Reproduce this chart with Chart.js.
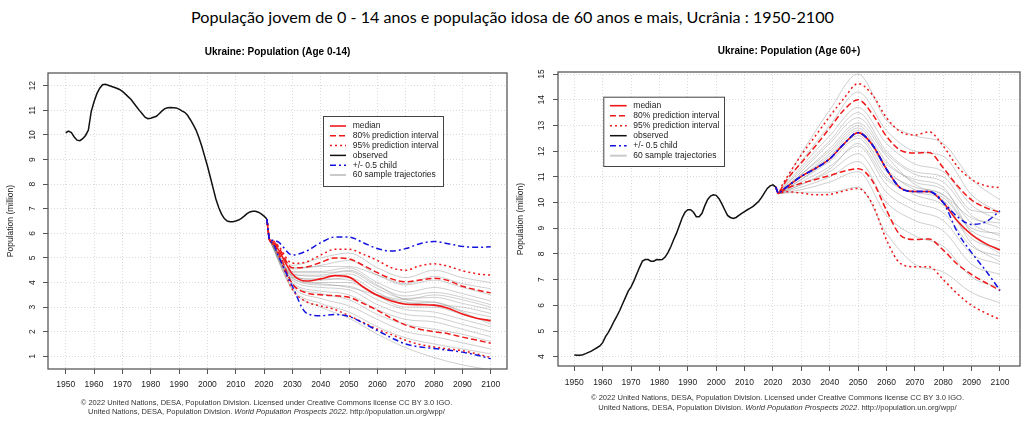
<!DOCTYPE html>
<html>
<head>
<meta charset="utf-8">
<script src="https://cdn.jsdelivr.net/npm/chart.js@4.4.0/dist/chart.umd.min.js"></script>
<style>
html,body{margin:0;padding:0;background:#fff;}
body{width:1025px;height:422px;position:relative;overflow:hidden;}
#mainTitle{position:absolute;left:0;top:8px;width:1025px;text-align:center;font-family:Lato,'Open Sans',sans-serif;font-size:14.5px;line-height:20px;color:#000;white-space:nowrap;}
#mt{display:inline-block;transform-origin:50% 50%;}
.panel{position:absolute;top:30px;height:392px;}
#wrapL{left:0;width:512px;}
#wrapR{left:512px;width:513px;}
canvas{display:block;}
</style>
</head>
<body>
<div id="mainTitle"><span id="mt">População jovem de 0 - 14 anos e população idosa de 60 anos e mais, Ucrânia : 1950-2100</span></div>
<div class="panel" id="wrapL"><canvas id="cL" width="512" height="392"></canvas></div>
<div class="panel" id="wrapR"><canvas id="cR" width="513" height="392"></canvas></div>
<script>
// ---------------- DATA ----------------
const obsYears = [1950,1951,1952,1953,1954,1955,1956,1957,1958,1959,1960,1961,1962,1963,1964,1965,1966,1967,1968,1969,
  1970,1971,1972,1973,1974,1975,1976,1977,1978,1979,1980,1981,1982,1983,1984,1985,1986,1987,1988,1989,
  1990,1991,1992,1993,1994,1995,1996,1997,1998,1999,2000,2001,2002,2003,2004,2005,2006,2007,2008,2009,
  2010,2011,2012,2013,2014,2015,2016,2017,2018,2019,2020,2021];

const youngObserved = [10.09,10.16,10.10,9.92,9.79,9.77,9.85,9.98,10.20,10.95,11.35,11.68,11.90,12.04,12.06,12.02,11.98,11.94,11.90,11.85,
  11.77,11.67,11.56,11.45,11.30,11.15,11.00,10.86,10.72,10.66,10.68,10.72,10.76,10.86,10.98,11.07,11.11,11.12,11.11,11.10,
  11.05,10.98,10.92,10.80,10.62,10.42,10.20,9.90,9.55,9.15,8.75,8.30,7.85,7.40,7.05,6.78,6.60,6.50,6.47,6.47,
  6.50,6.54,6.61,6.70,6.80,6.87,6.90,6.90,6.86,6.79,6.70,6.58];

const oldObserved = [4.07,4.06,4.06,4.08,4.12,4.17,4.22,4.29,4.35,4.42,4.55,4.78,4.95,5.15,5.38,5.58,5.80,6.05,6.30,6.55,
  6.72,6.95,7.22,7.48,7.72,7.78,7.78,7.72,7.72,7.78,7.77,7.78,7.88,8.05,8.28,8.55,8.80,9.10,9.40,9.62,
  9.72,9.72,9.62,9.45,9.45,9.58,9.88,10.12,10.25,10.30,10.28,10.15,9.95,9.72,9.50,9.42,9.38,9.42,9.50,9.58,
  9.65,9.72,9.78,9.85,9.95,10.05,10.20,10.38,10.55,10.65,10.69,10.60];

const projYears = [2021,2022,2023,2025,2030,2035,2040,2045,2050,2055,2060,2065,2070,2075,2080,2085,2090,2095,2100];

// Age 0-14 projections
const youngMedian = [6.58,5.72,5.65,5.35,4.35,4.06,4.15,4.28,4.22,3.82,3.48,3.25,3.12,3.10,3.08,2.95,2.72,2.55,2.45];
const young80Up   = [6.58,5.72,5.68,5.45,4.60,4.63,4.82,5.00,4.96,4.70,4.40,4.15,4.03,4.10,4.17,4.08,3.85,3.70,3.58];
const young95Up   = [6.58,5.72,5.70,5.50,4.78,4.84,5.12,5.35,5.35,5.15,4.90,4.60,4.50,4.68,4.76,4.66,4.48,4.36,4.30];
const young80Lo   = [6.58,5.72,5.60,5.25,3.95,3.58,3.50,3.46,3.40,3.15,2.87,2.55,2.27,2.10,2.00,1.92,1.78,1.66,1.53];
const young95Lo   = [6.58,5.72,5.58,5.15,3.72,3.22,3.05,2.90,2.65,2.38,2.10,1.88,1.65,1.48,1.38,1.30,1.23,1.10,0.95];
const youngChildUp= [6.58,5.72,5.72,5.65,5.12,5.28,5.62,5.85,5.85,5.62,5.38,5.28,5.38,5.58,5.67,5.58,5.47,5.43,5.45];
const youngChildLo= [6.58,5.72,5.62,5.10,3.85,2.75,2.65,2.70,2.62,2.35,2.05,1.75,1.50,1.38,1.32,1.25,1.17,1.05,0.90];

// Age 60+ projections
const oldMedian   = [10.60,10.35,10.45,10.62,11.02,11.33,11.70,12.28,12.72,12.25,11.30,10.56,10.43,10.43,10.00,9.28,8.75,8.40,8.15];
const old80Up     = [10.60,10.35,10.55,10.90,11.55,12.20,12.90,13.60,14.00,13.45,12.58,12.03,11.93,11.95,11.35,10.65,10.10,9.80,9.62];
const old95Up     = [10.60,10.35,10.62,11.00,11.85,12.60,13.35,14.05,14.63,14.20,13.30,12.75,12.63,12.75,12.20,11.40,10.90,10.65,10.58];
const old80Lo     = [10.60,10.35,10.42,10.55,10.75,10.90,11.05,11.22,11.32,10.85,9.70,8.72,8.56,8.58,8.15,7.60,7.20,6.88,6.58];
const old95Lo     = [10.60,10.35,10.38,10.42,10.37,10.30,10.32,10.45,10.55,9.95,8.55,7.62,7.50,7.50,7.00,6.45,6.00,5.70,5.45];
const oldChildUp  = [10.60,10.35,10.45,10.62,11.02,11.33,11.70,12.28,12.72,12.25,11.30,10.56,10.43,10.43,10.00,9.45,9.15,9.25,9.68];
const oldChildLo  = [10.60,10.35,10.45,10.62,11.02,11.33,11.70,12.28,12.72,12.25,11.30,10.56,10.43,10.43,10.00,8.85,8.05,7.35,6.58];

// sample trajectories (a subset)
const trajYears = [2022,2030,2040,2050,2060,2070,2080,2090,2100];
const youngTrajectories = [
  [5.72,4.70,5.00,5.20,4.60,4.20,4.50,4.20,4.00],
  [5.72,4.55,4.70,4.90,4.30,3.90,4.10,3.80,3.50],
  [5.72,4.45,4.45,4.60,4.00,3.60,3.80,3.55,3.25],
  [5.72,4.35,4.25,4.35,3.75,3.35,3.40,3.15,2.90],
  [5.72,4.30,4.10,4.20,3.60,3.15,3.20,2.85,2.60],
  [5.72,4.25,4.00,4.00,3.45,3.00,3.00,2.70,2.40],
  [5.72,4.20,3.90,3.85,3.30,2.90,2.80,2.50,2.20],
  [5.72,4.10,3.80,3.70,3.10,2.70,2.60,2.30,2.00],
  [5.72,4.00,3.65,3.50,2.90,2.50,2.40,2.10,1.80],
  [5.72,3.95,3.55,3.30,2.70,2.30,2.10,1.90,1.60],
  [5.72,3.85,3.35,3.05,2.50,2.00,1.80,1.55,1.30],
  [5.72,3.75,3.15,2.80,2.20,1.75,1.50,1.30,1.10],
  [5.72,3.70,3.00,2.55,1.90,1.35,0.95,0.65,0.45],
  [5.72,4.60,4.65,4.65,4.30,3.95,4.25,3.95,3.75],
  [5.72,4.40,4.40,4.45,3.85,3.45,3.60,3.40,3.10],
  [5.72,4.20,4.15,4.10,3.50,3.20,3.10,3.00,2.75],
  [5.72,4.30,4.30,4.50,3.90,3.30,3.20,2.80,2.30],
  [5.72,4.15,3.95,3.80,3.50,3.30,3.50,3.30,3.00]
];
const oldTrajectories = [
  [10.35,11.90,13.60,15.00,13.20,12.60,12.30,10.90,10.10],
  [10.35,11.60,13.00,14.30,12.80,12.00,11.80,10.30,9.60],
  [10.35,11.40,12.60,13.70,12.30,11.50,11.20,9.90,9.30],
  [10.35,11.20,12.30,13.30,11.90,11.10,10.80,9.50,9.00],
  [10.35,11.10,12.00,13.00,11.60,10.80,10.50,9.20,8.70],
  [10.35,11.00,11.80,12.80,11.30,10.50,10.20,8.90,8.50],
  [10.35,10.90,11.60,12.50,11.00,10.30,9.90,8.60,8.20],
  [10.35,10.80,11.40,12.20,10.70,10.00,9.60,8.30,7.90],
  [10.35,10.70,11.20,11.90,10.40,9.70,9.30,8.00,7.60],
  [10.35,10.60,11.00,11.60,10.00,9.30,8.90,7.60,7.20],
  [10.35,10.50,10.80,11.20,9.50,8.70,8.30,7.10,6.70],
  [10.35,10.40,10.40,10.60,8.80,7.60,7.30,6.50,6.10],
  [10.35,11.30,12.40,13.50,12.00,11.20,11.00,9.70,9.60],
  [10.35,11.00,11.90,12.90,11.50,10.90,10.60,8.80,8.00],
  [10.35,10.90,11.70,12.60,11.20,10.60,10.30,9.00,8.80],
  [10.35,11.10,12.10,13.10,11.80,10.70,10.30,9.40,9.20],
  [10.35,10.70,11.30,12.30,10.90,10.40,10.10,8.40,7.70]
];

const xTickYears = [1950,1960,1970,1980,1990,2000,2010,2020,2030,2040,2050,2060,2070,2080,2090,2100];
const youngYTicks = [1,2,3,4,5,6,7,8,9,10,11,12];
const oldYTicks = [4,5,6,7,8,9,10,11,12,13,14,15];

const youngTitle = 'Ukraine: Population (Age 0-14)';
const oldTitle = 'Ukraine: Population (Age 60+)';
const yAxisTitle = 'Population (million)';
const legendLabels = ['median','80% prediction interval','95% prediction interval','observed','+/- 0.5 child','60 sample trajectories'];
const footer1 = '\u00A9 2022 United Nations, DESA, Population Division. Licensed under Creative Commons license CC BY 3.0 IGO.';
const footer2a = 'United Nations, DESA, Population Division. ';
const footer2b = 'World Population Prospects 2022';
const footer2c = '. http://population.un.org/wpp/';

// ---------------- STYLE ----------------
const FONT = "'Liberation Sans', Arial, Helvetica, sans-serif";
const RED = '#f01818', BLUE = '#1414e0';
const styles = {
  median: {color: RED, width: 1.6, dash: []},
  p80: {color: RED, width: 1.5, dash: [6, 3]},
  p95: {color: RED, width: 1.5, dash: [2, 3]},
  obs: {color: '#111', width: 1.5, dash: []},
  child: {color: BLUE, width: 1.5, dash: [6, 3, 2, 3]},
  traj: {color: 'rgba(140,140,140,0.42)', width: 1, dash: []}
};
const legendStyles = [styles.median, styles.p80, styles.p95, styles.obs, styles.child, {color: '#c9c9c9', width: 2, dash: []}];

Chart.defaults.font.family = FONT;
Chart.defaults.font.size = 8.5;
Chart.defaults.color = '#222';

function pts(xs, ys) { return xs.map((x, i) => ({x: x, y: ys[i]})); }
function line(xs, ys, st, order, smooth) {
  return {data: pts(xs, ys), borderColor: st.color, borderWidth: st.width, borderDash: st.dash,
    pointRadius: 0, fill: false, order: order, tension: 0,
    cubicInterpolationMode: smooth ? 'monotone' : 'default'};
}
function buildDatasets(d) {
  const ds = [];
  d.traj.forEach(t => ds.push(line(trajYears, t, styles.traj, 10, true)));
  ds.push(line(obsYears, d.obs, styles.obs, 5, false));
  ds.push(line(projYears, d.p95Up, styles.p95, 4, true));
  ds.push(line(projYears, d.p95Lo, styles.p95, 4, true));
  ds.push(line(projYears, d.p80Up, styles.p80, 3, true));
  ds.push(line(projYears, d.p80Lo, styles.p80, 3, true));
  ds.push(line(projYears, d.median, styles.median, 2, true));
  ds.push(line(projYears, d.childUp, styles.child, 1, true));
  ds.push(line(projYears, d.childLo, styles.child, 1, true));
  return ds;
}

const panelPlugin = {
  id: 'panel',
  afterDraw(chart, args, o) {
    const ctx = chart.ctx, a = chart.chartArea, xs = chart.scales.x, ys = chart.scales.y;
    ctx.save();
    ctx.setLineDash([]);
    // frame
    ctx.strokeStyle = '#5a5a5a'; ctx.lineWidth = 1.3;
    ctx.strokeRect(a.left, a.top, a.right - a.left, a.bottom - a.top);
    // x tick labels
    ctx.fillStyle = '#222'; ctx.font = '8.5px ' + FONT; ctx.textAlign = 'center'; ctx.textBaseline = 'middle';
    xs.ticks.forEach(t => ctx.fillText(String(t.value), xs.getPixelForValue(t.value), o.xLabelY));
    // y tick labels, rotated like R
    ys.ticks.forEach(t => {
      ctx.save();
      ctx.translate(a.left - o.yLabelGap, ys.getPixelForValue(t.value));
      ctx.rotate(-Math.PI / 2);
      ctx.fillText(String(t.value), 0, 0);
      ctx.restore();
    });
    // panel title
    ctx.fillStyle = '#000'; ctx.font = 'bold 10px ' + FONT;
    ctx.fillText(o.title, (a.left + a.right) / 2, o.titleY);
    // legend
    const L = o.legend;
    ctx.fillStyle = '#fff'; ctx.fillRect(L.x, L.y, L.w, L.h);
    ctx.strokeStyle = '#444'; ctx.lineWidth = 1; ctx.strokeRect(L.x + 0.5, L.y + 0.5, L.w, L.h);
    ctx.font = '8.5px ' + FONT; ctx.textAlign = 'left';
    legendLabels.forEach((lab, i) => {
      const st = legendStyles[i];
      const y = L.y + L.firstRow + i * L.rowH;
      ctx.beginPath(); ctx.strokeStyle = st.color; ctx.lineWidth = st.width; ctx.setLineDash(st.dash);
      ctx.moveTo(L.x + L.lineX0, y); ctx.lineTo(L.x + L.lineX1, y); ctx.stroke();
      ctx.setLineDash([]);
      ctx.fillStyle = '#222';
      ctx.fillText(lab, L.x + L.textX, y);
    });
    // footer
    const cx = (a.left + a.right) / 2 + o.footerDX;
    ctx.font = '10px ' + FONT;
    const fs = 10 * o.footerWidth / ctx.measureText(footer1).width;
    ctx.fillStyle = '#333'; ctx.textAlign = 'center';
    ctx.font = fs + 'px ' + FONT;
    ctx.fillText(footer1, cx, o.footerY[0]);
    ctx.textAlign = 'left';
    const fN = fs + 'px ' + FONT, fI = 'italic ' + fs + 'px ' + FONT;
    ctx.font = fN; const wa = ctx.measureText(footer2a).width, wc = ctx.measureText(footer2c).width;
    ctx.font = fI; const wb = ctx.measureText(footer2b).width;
    let x0 = cx - (wa + wb + wc) / 2;
    ctx.font = fN; ctx.fillText(footer2a, x0, o.footerY[1]);
    ctx.font = fI; ctx.fillText(footer2b, x0 + wa, o.footerY[1]);
    ctx.font = fN; ctx.fillText(footer2c, x0 + wa + wb, o.footerY[1]);
    ctx.restore();
  }
};

function makeChart(id, d, g) {
  const gridBase = {color: '#dadada', lineWidth: 1, drawTicks: true, tickLength: 5, tickColor: '#555', tickWidth: 1, tickBorderDash: []};
  return new Chart(document.getElementById(id), {
    type: 'line',
    data: {datasets: buildDatasets(d)},
    options: {
      responsive: false, animation: false, events: [],
      layout: {padding: {left: 0, top: g.area.top, right: g.w - g.area.right, bottom: 0}},
      plugins: {
        legend: {display: false}, tooltip: {enabled: false}, title: {display: false},
        panel: {title: d.title, titleY: g.titleY, xLabelY: g.xLabelY, yLabelGap: g.yLabelGap,
                legend: g.legend, footerY: g.footerY, footerDX: g.footerDX, footerWidth: g.footerWidth}
      },
      scales: {
        x: {
          type: 'linear', min: g.xMin, max: g.xMax,
          ticks: {display: false},
          afterBuildTicks: s => { s.ticks = xTickYears.map(v => ({value: v})); },
          afterFit: s => { s.height = g.h - g.area.bottom; },
          grid: gridBase, border: {display: false, dash: [1, 2]}
        },
        y: {
          type: 'linear', min: g.yMin, max: g.yMax,
          ticks: {display: false},
          afterBuildTicks: s => { s.ticks = d.yTicks.map(v => ({value: v})); },
          afterFit: s => { s.width = g.area.left; },
          grid: gridBase, border: {display: false, dash: [1, 2]},
          title: {display: true, text: yAxisTitle, color: '#222', font: {size: 8.5}, padding: {top: g.yTitlePad, bottom: 0}}
        }
      }
    },
    plugins: [panelPlugin]
  });
}

makeChart('cL', {
  title: youngTitle, obs: youngObserved, median: youngMedian, p80Up: young80Up, p95Up: young95Up,
  p80Lo: young80Lo, p95Lo: young95Lo, childUp: youngChildUp, childLo: youngChildLo,
  traj: youngTrajectories, yTicks: youngYTicks
}, {
  w: 512, h: 392, area: {left: 48, right: 507, top: 43, bottom: 339},
  xMin: 1943.75, xMax: 2105.75, yMin: 0.484, yMax: 12.52,
  titleY: 22, xLabelY: 355, yLabelGap: 15, yTitlePad: 6,
  legend: {x: 323, y: 86, w: 120, h: 70, firstRow: 10, rowH: 9.8, lineX0: 7, lineX1: 23, textX: 29.7},
  footerY: [373.3, 382.3], footerDX: -11, footerWidth: 372
});

makeChart('cR', {
  title: oldTitle, obs: oldObserved, median: oldMedian, p80Up: old80Up, p95Up: old95Up,
  p80Lo: old80Lo, p95Lo: old95Lo, childUp: oldChildUp, childLo: oldChildLo,
  traj: oldTrajectories, yTicks: oldYTicks
}, {
  w: 513, h: 392, area: {left: 46, right: 508, top: 42, bottom: 336},
  xMin: 1944.26, xMax: 2107.05, yMin: 3.64, yMax: 15.08,
  titleY: 21, xLabelY: 352.7, yLabelGap: 16, yTitlePad: 4,
  legend: {x: 91.3, y: 66.7, w: 120.7, h: 69.3, firstRow: 9, rowH: 10, lineX0: 6.7, lineX1: 23.4, textX: 30},
  footerY: [367.5, 377.5], footerDX: -11.5, footerWidth: 374
});

// fit the main title to the width it has in the reference
(function () {
  const span = document.getElementById('mt');
  const w = span.getBoundingClientRect().width;
  span.style.transform = 'scaleX(' + (643 / w) + ')';
})();
</script>
</body>
</html>
